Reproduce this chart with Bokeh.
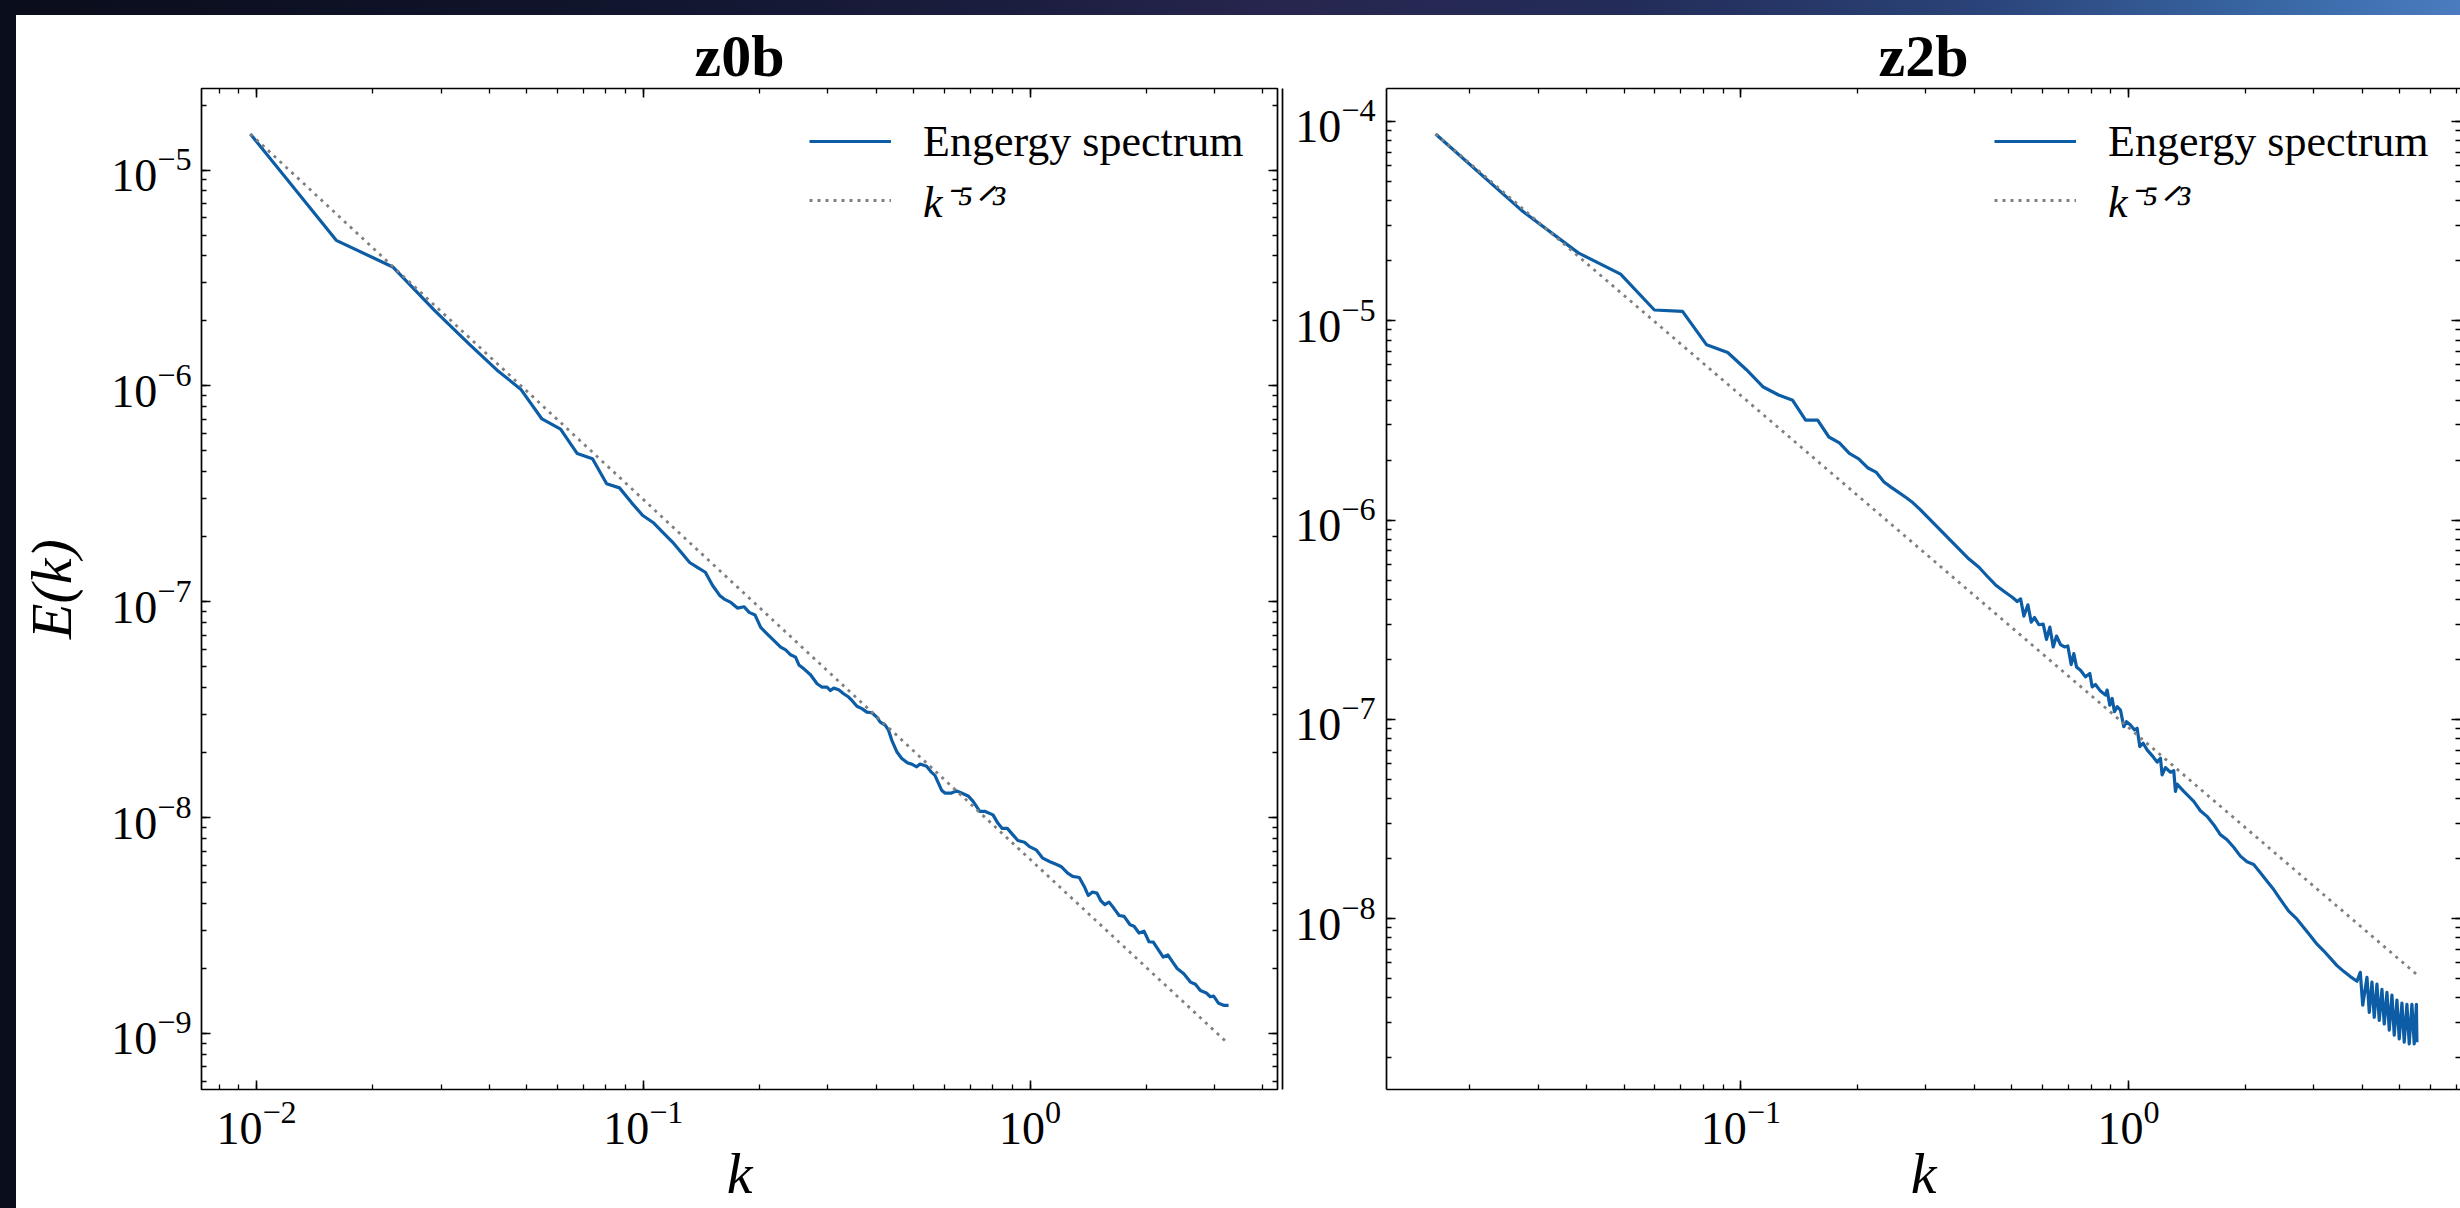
import numpy as np
from bokeh.plotting import figure
from bokeh.models import (Range1d, LogAxis, LinearAxis, LogTicker, FixedTicker,
                          Legend, LegendItem, CustomJSTickFormatter)
from bokeh.layouts import row
from bokeh.embed import file_html
from bokeh.resources import INLINE

# ---------------- z0b energy spectrum ----------------
k_z0b = [
    0.00964, 0.01607, 0.02250, 0.02893, 0.03536, 0.04180, 0.04820, 0.05470, 0.06110, 0.06750,
    0.07390, 0.08040, 0.08680, 0.09320, 0.09970, 0.10600, 0.11250, 0.11900, 0.12540, 0.13180,
    0.13830, 0.14470, 0.15110, 0.15760,
    0.1619, 0.1684, 0.1752, 0.1823, 0.1878, 0.1946, 0.2012, 0.2093, 0.2178, 0.2266,
    0.2334, 0.2404, 0.2476, 0.2526, 0.2602, 0.2706, 0.2815, 0.2900, 0.2987, 0.3047,
    0.3108, 0.3201, 0.3297, 0.3396, 0.3464, 0.3568, 0.3675, 0.3786, 0.3900, 0.4017,
    0.4100, 0.4222, 0.4306, 0.4392, 0.4524, 0.4660, 0.4829, 0.4945, 0.5093, 0.5195,
    0.5404, 0.5567, 0.5678, 0.5907, 0.6025, 0.6268, 0.6457, 0.6651, 0.6919, 0.7127,
    0.7413, 0.7636, 0.8023, 0.8264, 0.8464, 0.8734, 0.9033, 0.9304, 0.9679, 0.9970,
    1.0372, 1.0790, 1.1225, 1.1677, 1.2028, 1.2513, 1.2889, 1.3409, 1.3812, 1.4143,
    1.4511, 1.4889, 1.5246, 1.5612, 1.6018, 1.6500, 1.7000, 1.7512, 1.8145, 1.8580,
    1.9140, 1.9717, 2.0310, 2.0838, 2.1544, 2.2105, 2.2726, 2.3318, 2.4019, 2.4987,
    2.5992, 2.6774, 2.7579, 2.8577, 2.9262, 2.9846, 3.0745, 3.1670, 3.2623,
]
E_z0b = [
    1.469e-5, 4.725e-6, 3.556e-6, 2.228e-6, 1.570e-6, 1.186e-6, 9.66e-7, 7.03e-7, 6.31e-7, 4.86e-7,
    4.60e-7, 3.52e-7, 3.37e-7, 2.88e-7, 2.51e-7, 2.33e-7, 2.09e-7, 1.89e-7, 1.69e-7, 1.52e-7,
    1.44e-7, 1.37e-7, 1.19e-7, 1.07e-7,
    1.029e-7, 9.93e-8, 9.35e-8, 9.48e-8, 8.93e-8, 8.68e-8, 7.61e-8, 7.09e-8, 6.61e-8, 6.16e-8,
    5.98e-8, 5.68e-8, 5.54e-8, 5.10e-8, 4.89e-8, 4.59e-8, 4.17e-8, 4.02e-8, 4.02e-8, 3.88e-8,
    3.98e-8, 3.91e-8, 3.75e-8, 3.62e-8, 3.49e-8, 3.28e-8, 3.20e-8, 3.08e-8, 3.06e-8, 2.92e-8,
    2.77e-8, 2.68e-8, 2.54e-8, 2.28e-8, 2.02e-8, 1.88e-8, 1.79e-8, 1.77e-8, 1.72e-8, 1.77e-8,
    1.73e-8, 1.62e-8, 1.57e-8, 1.34e-8, 1.30e-8, 1.30e-8, 1.33e-8, 1.30e-8, 1.26e-8, 1.19e-8,
    1.07e-8, 1.07e-8, 1.03e-8, 9.41e-9, 8.92e-9, 8.92e-9, 8.32e-9, 7.83e-9, 7.69e-9, 7.34e-9,
    7.09e-9, 6.49e-9, 6.26e-9, 6.08e-9, 5.94e-9, 5.53e-9, 5.34e-9, 5.28e-9, 4.80e-9, 4.36e-9,
    4.52e-9, 4.47e-9, 4.12e-9, 3.95e-9, 4.06e-9, 3.79e-9, 3.52e-9, 3.49e-9, 3.19e-9, 3.14e-9,
    2.92e-9, 2.98e-9, 2.66e-9, 2.65e-9, 2.42e-9, 2.26e-9, 2.31e-9, 2.16e-9, 2.00e-9, 1.89e-9,
    1.73e-9, 1.69e-9, 1.58e-9, 1.54e-9, 1.48e-9, 1.49e-9, 1.38e-9, 1.35e-9, 1.35e-9,
]

# ---------------- z2b energy spectrum ----------------
k_z2b = [
    0.01632, 0.02720, 0.03808, 0.04896, 0.05984, 0.07072, 0.08160, 0.09248, 0.10336, 0.11424,
    0.12512, 0.13600, 0.14688, 0.15776, 0.16864, 0.17952, 0.19040, 0.20128, 0.21216, 0.22304,
    0.23392, 0.24480, 0.25568, 0.26656, 0.27744, 0.28832,
    0.3875, 0.4111, 0.4318, 0.4537, 0.4767, 0.5010, 0.5160, 0.5264, 0.5369, 0.5497,
    0.5607, 0.5719, 0.5867, 0.6020, 0.6140, 0.6263, 0.6388, 0.6515, 0.6672, 0.6832,
    0.6968, 0.7107, 0.7221, 0.7336, 0.7512, 0.7738, 0.7940, 0.8050, 0.8211, 0.8459,
    0.8713, 0.8800, 0.8940, 0.9066, 0.9192, 0.9339, 0.9525, 0.9715, 0.9870, 1.0107,
    1.0350, 1.0515, 1.0683, 1.0897, 1.1158, 1.1494, 1.1841, 1.2077, 1.2197, 1.2440,
    1.2815, 1.3071, 1.3201, 1.3332, 1.3870, 1.4287, 1.4717, 1.5308, 1.5925, 1.6568,
    1.7236, 1.7935, 1.8659, 1.9412, 2.0196, 2.1012, 2.1860, 2.2744, 2.3661, 2.4616,
    2.5862, 2.7173, 2.8270, 2.9410, 3.0597, 3.1830, 3.3114, 3.4450, 3.5839, 3.7284,
    3.8789,
    3.9565, 4.0137, 4.1163, 4.1727, 4.2401, 4.2983, 4.3676, 4.4277, 4.4992, 4.5610,
    4.6346, 4.6983, 4.7741, 4.8397, 4.9178, 4.9854, 5.0658, 5.1354, 5.2183, 5.2900,
    5.3754, 5.4492, 5.5206, 5.5370,
]
E_z2b = [
    8.65e-5, 3.58e-5, 2.19e-5, 1.714e-5, 1.132e-5, 1.115e-5, 7.57e-6, 6.93e-6, 5.68e-6, 4.65e-6,
    4.24e-6, 3.99e-6, 3.17e-6, 3.17e-6, 2.61e-6, 2.44e-6, 2.16e-6, 2.03e-6, 1.83e-6, 1.74e-6,
    1.553e-6, 1.455e-6, 1.373e-6, 1.297e-6, 1.224e-6, 1.142e-6,
    6.375e-7, 5.795e-7, 5.224e-7, 4.727e-7, 4.394e-7, 4.101e-7, 3.902e-7, 4.023e-7, 3.297e-7, 3.756e-7,
    3.076e-7, 3.245e-7, 2.984e-7, 3.007e-7, 2.521e-7, 2.905e-7, 2.308e-7, 2.619e-7, 2.370e-7, 2.308e-7,
    2.335e-7, 1.883e-7, 2.137e-7, 1.833e-7, 1.764e-7, 1.634e-7, 1.698e-7, 1.456e-7, 1.496e-7, 1.386e-7,
    1.323e-7, 1.402e-7, 1.179e-7, 1.273e-7, 1.093e-7, 1.157e-7, 1.113e-7, 9.19e-8, 9.74e-8, 9.37e-8,
    8.85e-8, 9.02e-8, 7.30e-8, 7.59e-8, 7.03e-8, 6.58e-8, 6.10e-8, 6.38e-8, 5.27e-8, 5.73e-8,
    5.43e-8, 5.52e-8, 4.35e-8, 4.73e-8, 4.35e-8, 4.11e-8, 3.88e-8, 3.48e-8, 3.26e-8, 2.96e-8,
    2.64e-8, 2.49e-8, 2.28e-8, 2.06e-8, 1.93e-8, 1.87e-8, 1.70e-8, 1.54e-8, 1.40e-8, 1.25e-8,
    1.09e-8, 9.94e-9, 9.03e-9, 8.20e-9, 7.45e-9, 6.90e-9, 6.34e-9, 5.81e-9, 5.44e-9, 5.12e-9,
    4.85e-9,
    5.38e-9, 3.68e-9, 5.08e-9, 3.39e-9, 4.80e-9, 3.20e-9, 4.69e-9, 3.09e-9, 4.42e-9, 2.96e-9,
    4.27e-9, 2.76e-9, 4.13e-9, 2.60e-9, 3.90e-9, 2.49e-9, 3.77e-9, 2.40e-9, 3.72e-9, 2.35e-9,
    3.72e-9, 2.35e-9, 3.72e-9, 2.40e-9,
]

panel_titles = ["z0b", "z2b"]
legend_labels = ["Engergy spectrum", "k\u207b\u2075\u141f\u00b3"]
x_label = "k"
y_label = "E(k)"

SERIF = "Liberation Serif"
BLUE = "#0C5DA5"
GRAY = "#808080"
INK = "#000000"
BACKDROP = ("linear-gradient(90deg, #0a0d1b 0%, #11152d 25%, #1c1e40 42%, #27264f 52%, "
            "#232c58 66%, #2a4277 80%, #3866a3 92%, #4a7cbf 100%)")

# page geometry (pixels)
PAGE_H = 1208
SHEET_X, SHEET_Y = 16, 15
FRAME_TOP, FRAME_BOTTOM = 88, 1092
SPLIT = 1284
L_FRAME_LEFT, L_FRAME_RIGHT = 198, 1277
R_FRAME_LEFT, PAGE_W = 1386, 2460


def log_limits(lo, hi, frac=0.05):
    a, b = np.log10(lo), np.log10(hi)
    pad = (b - a) * frac
    return a - pad, b + pad


def slope_line(k, E):
    k = np.asarray(k, dtype=float)
    return E[0] * (k / k[0]) ** (-5.0 / 3.0)


def blank_labels(ax, standoff=0):
    ax.formatter = CustomJSTickFormatter(code="return ''")
    ax.major_label_text_font_size = "1px"
    ax.major_label_standoff = standoff


def style_ticks(ax, labels=True, standoff=10):
    ax.ticker = LogTicker(num_minor_ticks=10)
    ax.major_tick_in = 9
    ax.major_tick_out = 0
    ax.minor_tick_in = 5
    ax.minor_tick_out = 0
    ax.major_tick_line_color = INK
    ax.minor_tick_line_color = INK
    ax.major_tick_line_width = 1.6
    ax.minor_tick_line_width = 1.3
    ax.axis_line_color = None
    ax.major_label_text_font = SERIF
    ax.major_label_text_color = INK
    if labels:
        ax.major_label_text_font_size = "46px"
        ax.major_label_standoff = standoff
    else:
        blank_labels(ax, standoff)


def mirror_axis(gap=0):
    ax = LogAxis()
    style_ticks(ax, labels=False, standoff=gap)
    return ax


def plain_axis(tick_out, line_color):
    # an axis with one invisible tick; only its outward size and line are used
    ax = LinearAxis(ticker=FixedTicker(ticks=[1e-7], minor_ticks=[]))
    ax.major_tick_out = tick_out
    ax.major_tick_in = 0
    ax.minor_tick_out = 0
    ax.minor_tick_in = 0
    ax.major_tick_line_color = None
    ax.axis_line_color = line_color
    ax.axis_line_width = 1.7
    blank_labels(ax)
    return ax


def build_panel(k, E, title, x_lims, y_lims, width, border_left, border_right,
                ylab=None, ytick_standoff=10):
    ref = slope_line(k, E)
    p = figure(width=width, height=PAGE_H - SHEET_Y,
               x_axis_type="log", y_axis_type="log",
               x_range=Range1d(10 ** x_lims[0], 10 ** x_lims[1]),
               y_range=Range1d(10 ** y_lims[0], 10 ** y_lims[1]),
               output_backend="svg", toolbar_location=None,
               min_border_left=border_left, min_border_right=border_right,
               min_border_top=FRAME_TOP - SHEET_Y,
               min_border_bottom=PAGE_H - FRAME_BOTTOM,
               background_fill_color="white", border_fill_color="white")
    p.grid.visible = False

    p.title.text = title
    p.title.align = "center"
    p.title.text_font = SERIF
    p.title.text_font_style = "bold"
    p.title.text_font_size = "60px"
    p.title.text_color = INK
    p.title.standoff = 0

    r_spec = p.line(k, E, line_color=BLUE, line_width=3.2, line_join="round")
    r_ref = p.line(k, ref, line_color=GRAY, line_width=2.8, line_dash="3 5")

    xa = p.xaxis[0]
    ya = p.yaxis[0]
    style_ticks(xa, standoff=12)
    style_ticks(ya, standoff=ytick_standoff)
    xa.axis_label = x_label
    xa.axis_label_text_font = SERIF
    xa.axis_label_text_font_style = "italic"
    xa.axis_label_text_font_size = "58px"
    xa.axis_label_text_color = INK
    xa.axis_label_standoff = -6
    if ylab:
        ya.axis_label = ylab
        ya.axis_label_text_font = SERIF
        ya.axis_label_text_font_style = "italic"
        ya.axis_label_text_font_size = "58px"
        ya.axis_label_text_color = INK
        ya.axis_label_standoff = 24

    # mirrored ticks on the top and right edges; the top one also lifts the title
    top = mirror_axis(gap=4)
    right = mirror_axis()
    p.add_layout(top, "above")
    p.add_layout(right, "right")

    # legend: one entry per box so the slope label can be set in italics
    common = dict(padding=0, spacing=0, margin=0, glyph_width=82, glyph_height=56,
                  label_height=56, label_standoff=32, label_text_font=SERIF,
                  label_text_font_size="44px", label_text_color=INK,
                  border_line_color=None, background_fill_alpha=0)
    leg_spec = Legend(items=[LegendItem(label=legend_labels[0], renderers=[r_spec])],
                      location=(608, 920), **common)
    leg_ref = Legend(items=[LegendItem(label=legend_labels[1], renderers=[r_ref])],
                     location=(608, 859), label_text_font_style="italic", **common)
    p.add_layout(leg_spec)
    p.add_layout(leg_ref)
    return p, xa, ya, top, right


# axis limits: 5 % padding in log space around everything drawn
lx = log_limits(min(k_z0b), max(k_z0b))
ref0 = slope_line(k_z0b, E_z0b)
ly = log_limits(min(min(E_z0b), ref0.min()), max(max(E_z0b), ref0.max()))

rx = log_limits(min(k_z2b), max(k_z2b))
ref2 = slope_line(k_z2b, E_z2b)
ry = log_limits(min(min(E_z2b), ref2.min()), max(max(E_z2b), ref2.max()))

# the right panel keeps the left panel's pixels per decade and runs to the page edge
px_per_decade = (L_FRAME_RIGHT - L_FRAME_LEFT) / (lx[1] - lx[0])
rx_visible = (rx[0], rx[0] + (PAGE_W - R_FRAME_LEFT) / px_per_decade)

p1, xa1, ya1, top1, right1 = build_panel(
    k_z0b, E_z0b, panel_titles[0], lx, ly, SPLIT - SHEET_X,
    L_FRAME_LEFT - SHEET_X, SPLIT - L_FRAME_RIGHT, ylab=y_label, ytick_standoff=10)
p1.outline_line_color = INK
p1.outline_line_width = 1.7

# thin rule just right of the left panel's frame
p1.add_layout(plain_axis(5, None), "right")
p1.add_layout(plain_axis(0, INK), "right")

p2, xa2, ya2, top2, right2 = build_panel(
    k_z2b, E_z2b, panel_titles[1], rx_visible, ry, PAGE_W - SPLIT,
    R_FRAME_LEFT - SPLIT, 0, ylab=None, ytick_standoff=11)
p2.outline_line_color = None
for ax in (xa2, ya2, top2):
    ax.axis_line_color = INK
    ax.axis_line_width = 1.7

# white sheet holding both panels, laid over the dark backdrop
sheet = row(p1, p2, spacing=0, styles={"background-color": "white"},
            margin=(SHEET_Y, 0, 0, SHEET_X))
page = row(sheet, styles={"background": BACKDROP})

open("out.html", "w").write(file_html(page, INLINE, title="Energy spectra"))
